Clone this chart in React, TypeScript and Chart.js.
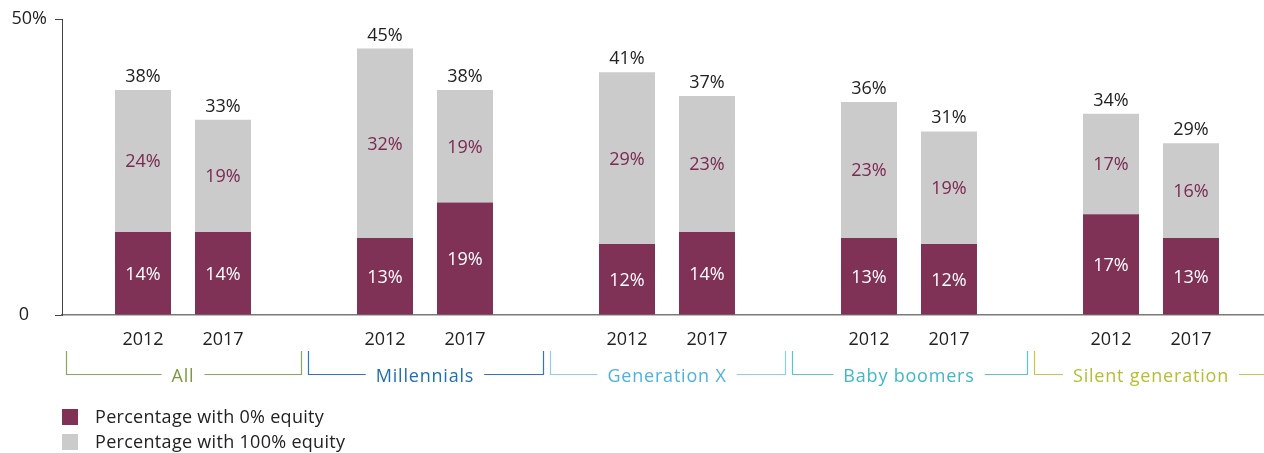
import React, { useEffect, useRef } from "react";
import { Chart, registerables } from "chart.js";

Chart.register(...registerables);

const groups = ["All", "Millennials", "Generation X", "Baby boomers", "Silent generation"];
const years = ["2012", "2017"];
const zeroEquity2012 = [14, 13, 12, 13, 17];
const fullEquity2012 = [24, 32, 29, 23, 17];
const zeroEquity2017 = [14, 19, 14, 12, 13];
const fullEquity2017 = [19, 19, 23, 19, 16];
const totals2012 = [38, 45, 41, 36, 34];
const totals2017 = [33, 38, 37, 31, 29];
const yTicks = [0, 50];
const seriesNames = ["Percentage with 0% equity", "Percentage with 100% equity"];

const MAROON = "#7f3156";
const GRAY = "#cbcbcb";
const groupTextColors = ["#7b9b3f", "#2070b0", "#4cb2e2", "#3fb9c6", "#b5be32"];
const groupLineColors = ["#88a95a", "#2a7ab8", "#8fcdee", "#5dc3cd", "#c2c84a"];
const FONT_FAMILY = "'Open Sans', 'Liberation Sans', sans-serif";
const FONT = `18px ${FONT_FAMILY}`;

const annotate = {
  id: "annotate",
  afterDatasetsDraw(chart: any) {
    const ctx = chart.ctx;
    const xs = chart.scales.x;
    ctx.save();
    ctx.font = FONT;
    ctx.textAlign = "center";
    ctx.textBaseline = "alphabetic";
    const capHalf = 6.4;
    chart.data.datasets.forEach((ds: any, di: number) => {
      const meta = chart.getDatasetMeta(di);
      meta.data.forEach((bar: any, i: number) => {
        const p = bar.getProps(["x", "y", "base"], true);
        ctx.fillStyle = ds.labelColor;
        ctx.fillText(ds.data[i] + "%", p.x, (p.y + p.base) / 2 + capHalf);
        if (ds.totals) {
          ctx.fillStyle = "#222";
          ctx.fillText(ds.totals[i] + "%", p.x, p.y - 8);
        }
        if (ds.yearLabel) {
          ctx.fillStyle = "#222";
          ctx.fillText(ds.yearLabel, p.x, chart.chartArea.bottom + 30);
        }
      });
    });
    // group brackets
    const top = chart.chartArea.bottom + 36;
    const lineY = chart.chartArea.bottom + 59.5;
    try { (ctx as any).letterSpacing = "0.8px"; } catch (e) {}
    groups.forEach((g, i) => {
      const c = xs.getPixelForValue(i);
      const half = 117.5;
      const l = Math.round(c - half) + 0.5;
      const r = Math.round(c + half) + 0.5;
      const tw = ctx.measureText(g).width;
      const gap = 10;
      ctx.strokeStyle = groupLineColors[i];
      ctx.lineWidth = 1.2;
      ctx.beginPath();
      ctx.moveTo(l, top);
      ctx.lineTo(l, lineY);
      ctx.lineTo(c - tw / 2 - gap, lineY);
      ctx.moveTo(c + tw / 2 + gap, lineY);
      ctx.lineTo(r, lineY);
      ctx.lineTo(r, top);
      ctx.stroke();
      ctx.fillStyle = groupTextColors[i];
      ctx.fillText(g, c, lineY + 7);
    });
    ctx.restore();
  },
};

export default function App() {
  const ref = useRef<HTMLCanvasElement>(null);
  useEffect(() => {
    if (!ref.current) return;
    const chart = new Chart(ref.current, {
      type: "bar",
      data: {
        labels: groups,
        datasets: [
          { label: seriesNames[0], data: zeroEquity2012, backgroundColor: MAROON, stack: years[0], labelColor: "#ffffff", yearLabel: years[0] } as any,
          { label: seriesNames[1], data: fullEquity2012, backgroundColor: GRAY, stack: years[0], labelColor: "#7b2852", totals: totals2012 } as any,
          { label: seriesNames[0], data: zeroEquity2017, backgroundColor: MAROON, stack: years[1], labelColor: "#ffffff", yearLabel: years[1] } as any,
          { label: seriesNames[1], data: fullEquity2017, backgroundColor: GRAY, stack: years[1], labelColor: "#7b2852", totals: totals2017 } as any,
        ],
      },
      options: {
        responsive: false,
        maintainAspectRatio: false,
        animation: false,
        layout: { padding: { top: 19, bottom: 138, left: 0, right: 0 } },
        datasets: { bar: { barPercentage: 0.7, categoryPercentage: 0.661 } },
        plugins: { legend: { display: false }, tooltip: { enabled: false } },
        scales: {
          x: {
            stacked: true,
            grid: { display: false },
            border: { display: true, color: "#7a7a7a", width: 1.5 },
            ticks: { display: false },
            afterFit: (s: any) => { s.height = 0; },
          },
          y: {
            stacked: true,
            min: 0,
            max: 50,
            afterBuildTicks: (s: any) => { s.ticks = yTicks.map((v) => ({ value: v })); },
            afterFit: (s: any) => { s.width = 62; },
            grid: { display: true, drawOnChartArea: false, drawTicks: true, tickLength: 7, color: "#444" },
            border: { display: true, color: "#444", width: 1 },
            ticks: {
              padding: 8,
              color: "#222",
              font: { family: FONT_FAMILY, size: 18 },
              callback: (v: any) => (v === 50 ? "50%" : v === 0 ? "0\u2003" : ""),
            },
          },
        },
      },
      plugins: [annotate],
    });
    return () => chart.destroy();
  }, []);

  const legendItems = [
    { color: MAROON, text: seriesNames[0] },
    { color: GRAY, text: seriesNames[1] },
  ];

  return (
    <div style={{ position: "fixed", left: 0, top: 0, width: 1264, height: 453, overflow: "hidden", background: "#fff" }}>
      <canvas ref={ref} width={1272} height={453} style={{ display: "block", width: 1272, height: 453 }} />
      <div style={{ position: "absolute", left: 62, top: 404, fontFamily: FONT_FAMILY, fontSize: 18, color: "#222", letterSpacing: "0.3px" }}>
        {legendItems.map((it) => (
          <div key={it.text} style={{ display: "flex", alignItems: "center", height: 25, lineHeight: "25px", whiteSpace: "nowrap" }}>
            <span style={{ display: "inline-block", width: 16, height: 16, background: it.color, marginRight: 17 }} />
            <span>{it.text}</span>
          </div>
        ))}
      </div>
    </div>
  );
}
